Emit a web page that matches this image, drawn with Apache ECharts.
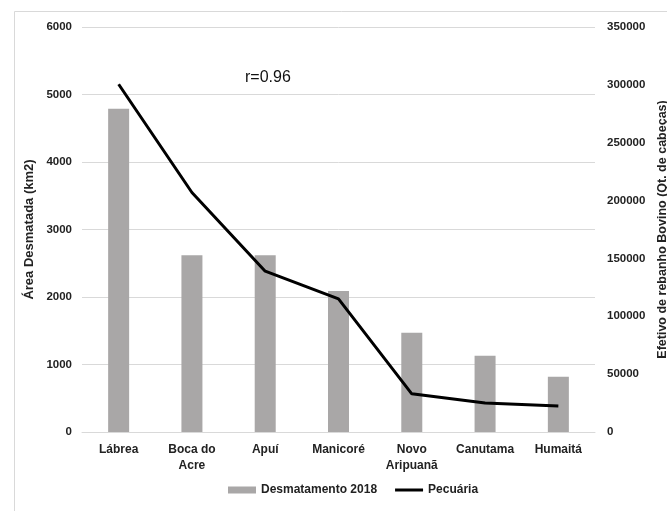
<!DOCTYPE html>
<html>
<head>
<meta charset="utf-8">
<script src="https://cdn.jsdelivr.net/npm/echarts@6/dist/echarts.min.js"></script>
<style>
html,body{margin:0;padding:0;background:#fff;overflow:hidden;}
#c{width:667px;height:511px;}
</style>
</head>
<body>
<div id="c"></div>
<script>
var categories = ['Lábrea', 'Boca do\nAcre', 'Apuí', 'Manicoré', 'Novo\nAripuanã', 'Canutama', 'Humaitá'];
var desmatamento = [4790, 2620, 2620, 2090, 1470, 1130, 820];
var pecuaria = [300500, 207000, 139000, 115000, 33000, 25000, 22500];
var leftTicks = [0, 1000, 2000, 3000, 4000, 5000, 6000];
var rightTicks = [0, 50000, 100000, 150000, 200000, 250000, 300000, 350000];

var chart = echarts.init(document.getElementById('c'), null, {renderer: 'canvas', width: 667, height: 511});
var font = 'Liberation Sans, Arial, sans-serif';
function plain(v) { return String(v); }
chart.setOption({
  animation: false,
  backgroundColor: '#fff',
  textStyle: {fontFamily: font},
  graphic: [
    {type: 'rect', left: 12, top: 9, shape: {width: 700, height: 600}, style: {fill: 'none', stroke: '#d9d9d9', lineWidth: 1}, z: -1},
    {type: 'text', left: 245, top: 70, style: {text: 'r=0.96', font: '16px ' + font, fill: '#111'}}
  ],
  grid: {left: 82, right: 72, top: 27, bottom: 79, containLabel: false, outerBoundsMode: 'none'},
  legend: {
    bottom: 10, left: 223,
    itemWidth: 28, itemHeight: 7, itemGap: 18,
    textStyle: {fontSize: 12, fontWeight: 'bold', color: '#222', fontFamily: font},
    data: [
      {name: 'Desmatamento 2018', icon: 'rect'},
      {name: 'Pecuária', icon: 'path://M0,0H28V3H0Z'}
    ]
  },
  xAxis: {
    type: 'category',
    data: categories,
    axisLine: {show: true, lineStyle: {color: '#d9d9d9'}},
    axisTick: {show: false},
    axisLabel: {fontSize: 12, fontWeight: 'bold', color: '#222', lineHeight: 16, margin: 10, interval: 0}
  },
  yAxis: [
    {
      type: 'value', min: leftTicks[0], max: leftTicks[leftTicks.length - 1], interval: 1000,
      name: 'Área Desmatada (km2)', nameLocation: 'middle', nameGap: 35, nameRotate: 90,
      nameTextStyle: {fontSize: 13, fontWeight: 'bold', color: '#222'},
      axisLine: {show: false}, axisTick: {show: false},
      axisLabel: {fontSize: 11.5, fontWeight: 'bold', color: '#222', margin: 10, formatter: plain},
      splitLine: {lineStyle: {color: '#d9d9d9', width: 1}}
    },
    {
      type: 'value', min: rightTicks[0], max: rightTicks[rightTicks.length - 1], interval: 50000,
      name: 'Efetivo de rebanho Bovino (Qt. de cabeças)', nameLocation: 'middle', nameGap: 56, nameRotate: 90,
      nameTextStyle: {fontSize: 12.5, fontWeight: 'bold', color: '#222'},
      axisLine: {show: false}, axisTick: {show: false},
      axisLabel: {fontSize: 11.5, fontWeight: 'bold', color: '#222', margin: 12, formatter: plain},
      splitLine: {show: false}
    }
  ],
  series: [
    {
      name: 'Desmatamento 2018', type: 'bar', data: desmatamento, yAxisIndex: 0,
      barWidth: 21, itemStyle: {color: '#a9a7a7'}
    },
    {
      name: 'Pecuária', type: 'line', data: pecuaria, yAxisIndex: 1,
      symbol: 'none', lineStyle: {color: '#000', width: 3}, itemStyle: {color: '#000'}
    }
  ]
});
</script>
</body>
</html>
